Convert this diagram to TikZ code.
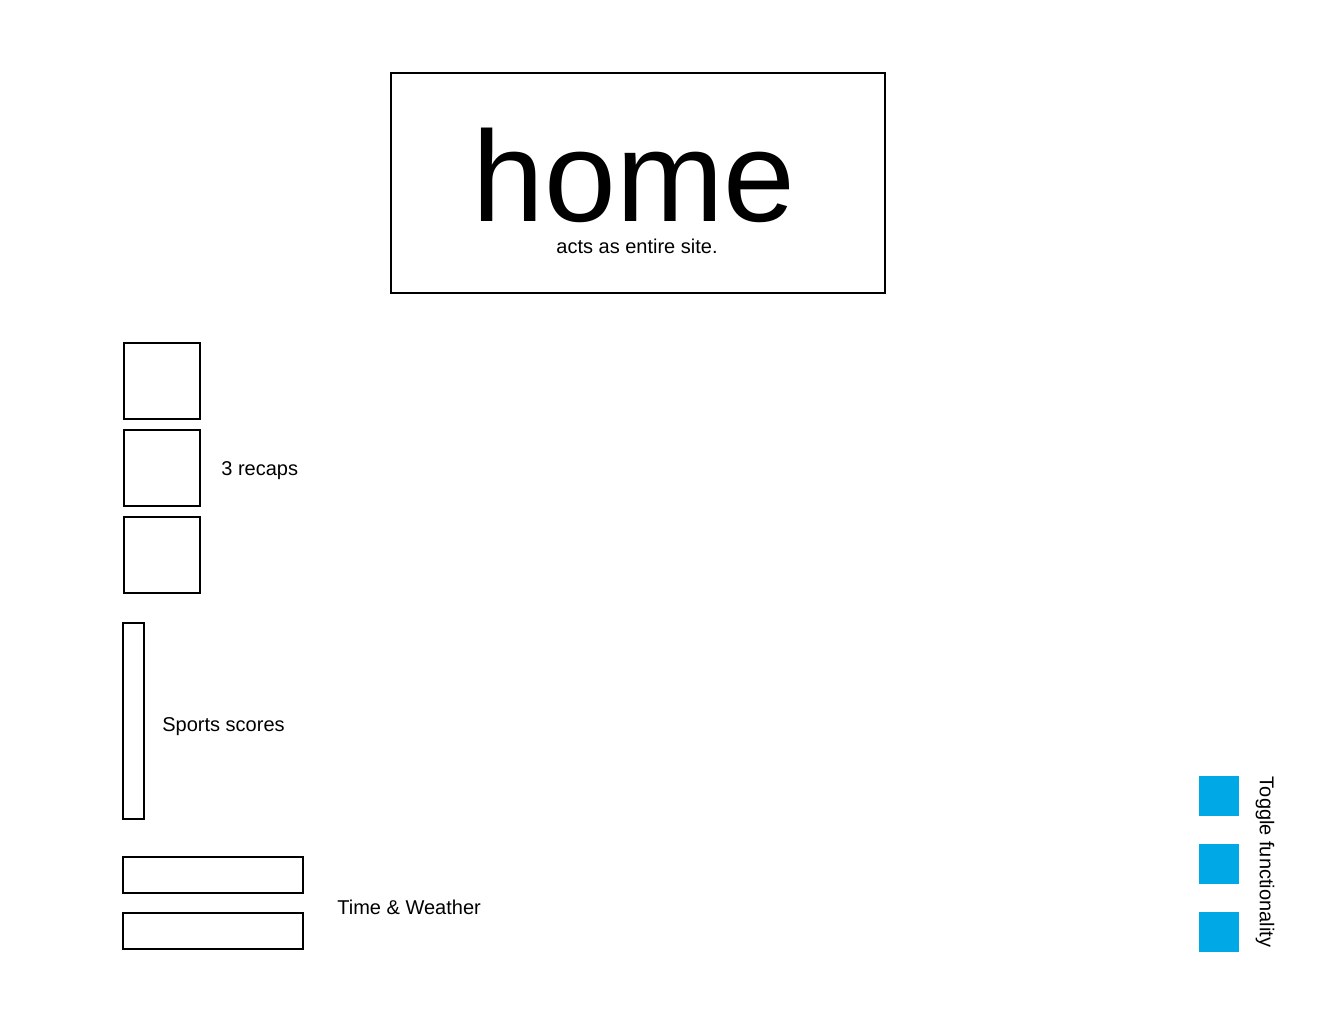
\documentclass[tikz,border=0pt]{standalone}
\usepackage{fontspec}
\setmainfont{Liberation Sans}
\usepackage{tikz}
\usetikzlibrary{positioning}
\definecolor{togglecyan}{RGB}{0,169,230}
\tikzset{okvir/.style={draw, line width=1pt, inner sep=0pt},
    kutija/.style={okvir, minimum width=38pt, minimum height=38pt},
    prekidac/.style={fill=togglecyan, inner sep=0pt, minimum size=20pt},
    natpis/.style={inner sep=0pt, font=\fontsize{10pt}{12pt}\selectfont}}

\begin{document}
\begin{tikzpicture}[x=0.5pt, y=-0.5pt]
    %granice
    \useasboundingbox (0, 0) rectangle (1320, 1012);

    %naslov
    \node[okvir, minimum width=247pt, minimum height=110pt] (home) at (638, 183) {};
    \node[inner sep=0pt, anchor=base, font=\fontsize{64.5pt}{70pt}\selectfont]
        (homenaslov) at (634, 221) {home};
    \node[natpis, anchor=base] (homeopis) at (637, 253) {acts as entire site.};

    %rekapi
    \node[kutija] (rekap1) at (161.5, 380.5) {};
    \node[kutija, below=4.6pt of rekap1] (rekap2) {};
    \node[kutija, below=4.6pt of rekap2] (rekap3) {};
    \node[natpis, anchor=west] (rekapopis) at (221, 471) {3 recaps};

    %rezultati
    \node[okvir, minimum width=10.5pt, minimum height=98pt] (rezultati) at (133.5, 721) {};
    \node[natpis, anchor=west] (rezultatiopis) at (162, 727) {Sports scores};

    %vrijeme
    \node[okvir, minimum width=90pt, minimum height=18pt] (vrijeme1) at (213, 875) {};
    \node[okvir, minimum width=90pt, minimum height=18pt, below=9pt of vrijeme1] (vrijeme2) {};
    \node[natpis, anchor=west] (vrijemeopis) at (337, 907) {Time \& Weather};

    %prekidaci
    \foreach \i/\y in {1/796, 2/864, 3/932}
        \node[prekidac] (prekidac\i) at (1219, \y) {};
    \node[natpis, rotate=-90] (prekidacopis) at (1265, 862) {Toggle functionality};
\end{tikzpicture}
\end{document}
